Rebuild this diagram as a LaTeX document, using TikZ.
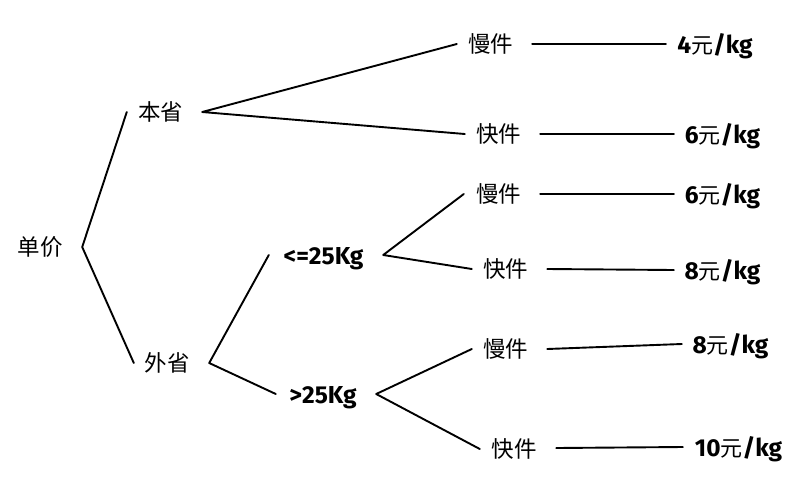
\documentclass[tikz,border=0pt]{standalone}
\usepackage{fontspec}
\setmainfont{Fira Sans}
\newfontfamily\cjk{Noto Sans CJK SC}
\newcommand\lb[2]{\makebox[#1pt]{#2}}
\newcommand\yuan{{\mdseries\cjk\fontsize{22}{24}\selectfont 元}}
\tikzset{
  cn/.style={inner xsep=0pt, inner ysep=0pt, text height=19pt, text depth=3pt,
    font=\cjk\fontsize{22.5}{24}\selectfont},
  bn/.style={inner xsep=0pt, inner ysep=0pt, text height=22pt, text depth=4pt,
    font=\bfseries\fontsize{24.5}{26}\selectfont},
  ln/.style={line width=1.9pt, line join=round, line cap=round}
}
\begin{document}
\begin{tikzpicture}[x=1pt,y=-1pt]
\fill[white] (0,0) rectangle (803,488);
\useasboundingbox (0,0) rectangle (803,488);
% level nodes
\node[cn] (dj) at (40,247)    {\lb{46}{单价}};
\node[cn] (bs) at (160.5,112) {\lb{45}{本省}};
\node[cn] (ws) at (167,363)   {\lb{46}{外省}};
\node[bn] (le) at (323.5,255) {\lb{81}{<=25Kg}};
\node[bn] (gt) at (323,394)   {\lb{68}{>25Kg}};
\node[cn] (m1) at (490.5,44)  {\lb{45}{慢件}};
\node[cn] (k1) at (498.5,134) {\lb{45}{快件}};
\node[cn] (m2) at (498.5,194) {\lb{45}{慢件}};
\node[cn] (k2) at (505.5,269) {\lb{45}{快件}};
\node[cn] (m3) at (505.5,349) {\lb{45}{慢件}};
\node[cn] (k3) at (514,449)   {\lb{46}{快件}};
% prices
\node[bn] (p1) at (715,44)    {\lb{76}{4\yuan/kg}};
\node[bn] (p2) at (722.5,134) {\lb{75}{6\yuan/kg}};
\node[bn] (p3) at (722.5,194) {\lb{75}{6\yuan/kg}};
\node[bn] (p4) at (722.5,270) {\lb{75}{8\yuan/kg}};
\node[bn] (p5) at (730.5,344) {\lb{75}{8\yuan/kg}};
\node[bn] (p6) at (738.5,447) {\lb{89}{10\yuan/kg}};
% connectors
\draw[ln] ([xshift=-11pt]bs.west) -- ([xshift=19pt]dj.east) -- ([xshift=-10pt]ws.west);
\draw[ln] ([xshift=-11pt]m1.west) -- ([xshift=19pt]bs.east) -- ([xshift=-11pt]k1.west);
\draw[ln] ([xshift=-14pt]le.west) -- ([xshift=19pt]ws.east) -- ([xshift=-13pt]gt.west);
\draw[ln] ([xshift=-12pt]m2.west) -- ([xshift=19pt]le.east) -- ([xshift=-11pt]k2.west);
\draw[ln] ([xshift=-11pt]m3.west) -- ([xshift=19pt]gt.east) -- ([xshift=-11pt]k3.west);
\draw[ln] ([xshift=19pt]m1.east) -- ([xshift=-11pt]p1.west);
\draw[ln] ([xshift=19pt]k1.east) -- ([xshift=-11pt]p2.west);
\draw[ln] ([xshift=19pt]m2.east) -- ([xshift=-11pt]p3.west);
\draw[ln] ([xshift=19pt]k2.east) -- ([xshift=-11pt]p4.west);
\draw[ln] ([xshift=19pt]m3.east) -- ([xshift=-11pt]p5.west);
\draw[ln] ([xshift=19pt,yshift=1pt]k3.east) -- ([xshift=-11pt]p6.west);
\end{tikzpicture}
\end{document}
